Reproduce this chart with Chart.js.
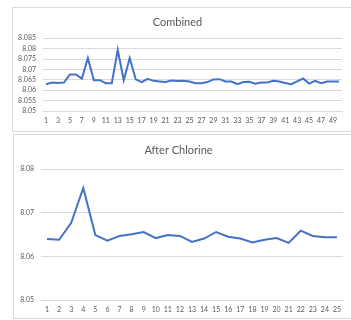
<!DOCTYPE html>
<html>
<head>
<meta charset="utf-8">
<script src="https://cdn.jsdelivr.net/npm/chart.js@4"></script>
<style>
    body { margin: 0; background: #fff; width: 351px; height: 320px; overflow: hidden; position: relative; }
    .box { position: absolute; border: 1px solid #d9d9d9; background: #fff; box-sizing: border-box; }
    #box-top { left: 12px; top: 7px; width: 350px; height: 125px; }
    #box-bottom { left: 13px; top: 134px; width: 350px; height: 185px; }
    canvas { position: absolute; left: 0; top: 0; }
</style>
</head>
<body>
<div class="box" id="box-top"><canvas id="chart-combined" width="338" height="123"></canvas></div>
<div class="box" id="box-bottom"><canvas id="chart-chlorine" width="337" height="183"></canvas></div>
<script>
// valeurs
const combinedLabels = Array.from({ length: 50 }, (_, i) => String(i + 1));
const combinedValues = [
    8.0629, 8.0637, 8.0635, 8.0637, 8.0676, 8.0676, 8.0656, 8.0755, 8.0648, 8.0648,
    8.0634, 8.0634, 8.0794, 8.0648, 8.0755, 8.0652, 8.0639, 8.0655, 8.0645, 8.0642,
    8.0639, 8.0647, 8.0644, 8.0645, 8.0642, 8.0634, 8.0634, 8.0639, 8.0652, 8.0653,
    8.0642, 8.0642, 8.0629, 8.0639, 8.0640, 8.0631, 8.0637, 8.0637, 8.0645, 8.0642,
    8.0635, 8.0629, 8.0642, 8.0656, 8.0632, 8.0645, 8.0634, 8.0642, 8.0642, 8.0642
];
const combinedYTicks = [8.05, 8.055, 8.06, 8.065, 8.07, 8.075, 8.08, 8.085];

const chlorineLabels = Array.from({ length: 25 }, (_, i) => String(i + 1));
const chlorineValues = [
    8.0640, 8.0638, 8.0677, 8.0757, 8.0649, 8.0636, 8.0647, 8.0651, 8.0656, 8.0642,
    8.0649, 8.0647, 8.0633, 8.0641, 8.0656, 8.0645, 8.0641, 8.0632, 8.0638, 8.0642,
    8.0631, 8.0659, 8.0647, 8.0644, 8.0644
];
const chlorineYTicks = [8.05, 8.06, 8.07, 8.08];

const FONT = 'Lato, "Open Sans", sans-serif';
const GREY = '#595959';
const GRID = '#d9d9d9';
const BLUE = '#4472C4';

function makeChart(canvasId, title, labels, values, yTicks, geo) {
    const ctx = document.getElementById(canvasId).getContext('2d');
    return new Chart(ctx, {
        type: 'line',
        data: {
            labels: labels,
            datasets: [{
                data: values,
                borderColor: BLUE,
                borderWidth: 2,
                pointRadius: 0,
                tension: 0,
                fill: false
            }]
        },
        options: {
            responsive: false,
            animation: false,
            layout: { padding: { left: 0, right: geo.right, top: 0, bottom: 0 } },
            plugins: {
                legend: { display: false },
                tooltip: { enabled: false },
                title: {
                    display: true,
                    text: title,
                    color: GREY,
                    font: { family: FONT, size: 11, weight: 'normal' },
                    padding: { top: geo.titleTop, bottom: geo.titleBottom }
                }
            },
            scales: {
                x: {
                    offset: true,
                    grid: { display: false, drawTicks: false },
                    border: { display: true, color: GRID },
                    afterFit: (scale) => { scale.height = geo.xHeight; },
                    ticks: {
                        autoSkip: false,
                        maxRotation: 0,
                        padding: geo.xPad,
                        color: GREY,
                        font: { family: FONT, size: 7 },
                        callback: (v, i) => (i % geo.every === 0 ? labels[i] : '')
                    }
                },
                y: {
                    min: yTicks[0],
                    max: yTicks[yTicks.length - 1],
                    grid: { color: GRID, drawTicks: false },
                    border: { display: false },
                    afterFit: (scale) => { scale.width = geo.axisWidth; },
                    afterBuildTicks: (scale) => { scale.ticks = yTicks.map(v => ({ value: v })); },
                    ticks: {
                        autoSkip: false,
                        padding: 7,
                        color: GREY,
                        font: { family: FONT, size: 7 },
                        callback: (v) => String(Number(v.toFixed(3)))
                    }
                }
            }
        }
    });
}

makeChart('chart-combined', 'Combined', combinedLabels, combinedValues, combinedYTicks,
    { right: 9, titleTop: 8, titleBottom: 9, axisWidth: 30, every: 2, xPad: 6, xHeight: 20 });
makeChart('chart-chlorine', 'After Chlorine', chlorineLabels, chlorineValues, chlorineYTicks,
    { right: 8, titleTop: 9, titleBottom: 12, axisWidth: 27, every: 1, xPad: 6, xHeight: 18 });
</script>
</body>
</html>
